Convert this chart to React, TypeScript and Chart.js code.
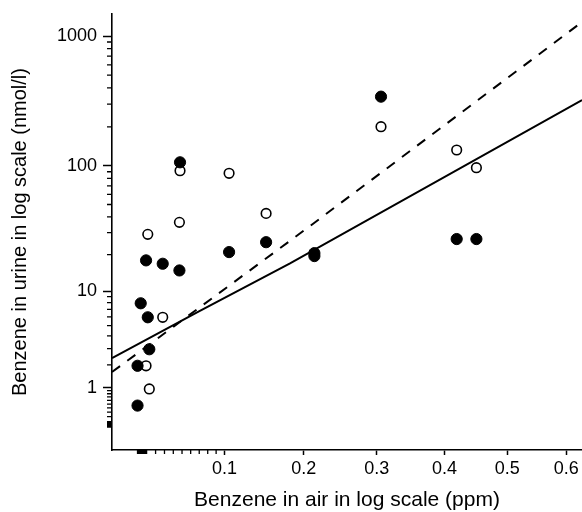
import React, { useEffect, useRef } from "react";
import { Chart, registerables } from "chart.js";

Chart.register(...registerables);

// ---- data (raw units: ppm on x, nmol/l on y) ----
const filledX = [0.0, 0.0, 0.0035, 0.0094, 0.0113, 0.013, 0.028, 0.047, 0.0477, 0.1056, 0.1514, 0.214, 0.214, 0.306, 0.419, 0.45];
const filledY = [0.46, 1.95, 7.9, 18.0, 5.95, 2.95, 16.9, 14.9, 106.5, 21.0, 25.2, 20.6, 19.5, 342, 26.7, 26.7];

const openX = [0.0094, 0.013, 0.028, 0.0113, 0.047, 0.0477, 0.1056, 0.1514, 0.306, 0.419, 0.45];
const openY = [1.95, 0.96, 5.95, 29.1, 36.2, 91.7, 87.5, 42.6, 200.7, 132.6, 96.7];

// regression lines
const solidX = [-0.0276, 0.068, 0.182, 0.628];
const solidY = [2.38, 6.6, 17.0, 322];
const dashedX = [-0.0276, 0.2083, 0.628];
const dashedY = [1.64, 33.9, 1282];

// ---- axes ----
const xRange = [-0.0276, 0.628];
const yRange = [-0.334, 1477];
const xMajor = [0.1, 0.2, 0.3, 0.4, 0.5, 0.6];
const xMajorLabels = ["0.1", "0.2", "0.3", "0.4", "0.5", "0.6"];
const xMinor = [
  0, 0.001, 0.002, 0.003, 0.004, 0.005, 0.006, 0.007, 0.008, 0.009,
  0.01, 0.02, 0.03, 0.04, 0.05, 0.06, 0.07, 0.08, 0.09,
];
const yMajor = [1, 10, 100, 1000];
const yMajorLabels = ["1", "10", "100", "1000"];
const yMinor = [
  0, 0.01, 0.02, 0.03, 0.04, 0.05, 0.06, 0.07, 0.08, 0.09,
  0.1, 0.2, 0.3, 0.4, 0.5, 0.6, 0.7, 0.8, 0.9,
  2, 3, 4, 5, 6, 7, 8, 9,
  20, 30, 40, 50, 60, 70, 80, 90,
  200, 300, 400, 500, 600, 700, 800, 900,
];

const xTitle = "Benzene in air in log scale (ppm)";
const yTitle = "Benzene in urine in log scale (nmol/l)";

// log(1 + v) transform used by both axes
const T = (v: number) => Math.log10(1 + v);

const FONT = "'Liberation Sans', Arial, Helvetica, sans-serif";

const minorTicksPlugin = {
  id: "minorTicks",
  afterDraw(chart: any) {
    const ctx = chart.ctx;
    const xs = chart.scales.x;
    const ys = chart.scales.y;
    ctx.save();
    ctx.strokeStyle = "#000";
    ctx.lineWidth = 1.3;
    ctx.beginPath();
    for (const v of yMinor) {
      const p = ys.getPixelForValue(T(v));
      ctx.moveTo(ys.right - 5, p);
      ctx.lineTo(ys.right, p);
    }
    for (const v of xMinor) {
      const p = xs.getPixelForValue(T(v));
      ctx.moveTo(p, xs.top);
      ctx.lineTo(p, xs.top + 4);
    }
    ctx.stroke();
    ctx.restore();
  },
};

export default function App() {
  const ref = useRef<HTMLCanvasElement | null>(null);

  useEffect(() => {
    document.body.style.margin = "0";
    const canvas = ref.current;
    if (!canvas) return;
    const toPts = (xs: number[], ys: number[]) => xs.map((x, i) => ({ x: T(x), y: T(ys[i]) }));

    const chart = new Chart(canvas, {
      type: "scatter",
      data: {
        datasets: [
          {
            data: toPts(filledX, filledY),
            pointRadius: 5.6,
            pointBackgroundColor: "#000",
            pointBorderColor: "#000",
            pointBorderWidth: 1,
            showLine: false,
            order: 0,
          },
          {
            data: toPts(openX, openY),
            pointRadius: 4.8,
            pointBackgroundColor: "#fff",
            pointBorderColor: "#000",
            pointBorderWidth: 1.6,
            showLine: false,
            order: 0,
          },
          {
            data: toPts(solidX, solidY),
            showLine: true,
            borderColor: "#000",
            borderWidth: 2,
            pointRadius: 0,
            fill: false,
            tension: 0,
            order: 1,
          },
          {
            data: toPts(dashedX, dashedY),
            showLine: true,
            borderColor: "#000",
            borderWidth: 2,
            borderDash: [10, 9],
            pointRadius: 0,
            fill: false,
            tension: 0,
            order: 1,
          },
        ],
      } as any,
      options: {
        animation: false,
        responsive: false,
        layout: { autoPadding: false, padding: { top: 14, left: 0, right: 0, bottom: 0 } },
        plugins: { legend: { display: false }, tooltip: { enabled: false } },
        scales: {
          x: {
            type: "linear",
            min: T(xRange[0]),
            max: T(xRange[1]),
            afterBuildTicks: (s: any) => {
              s.ticks = xMajor.map((v) => ({ value: T(v) }));
            },
            afterFit: (s: any) => {
              s.height = 62;
              s.paddingLeft = 0;
              s.paddingRight = 0;
            },
            ticks: {
              callback: (_v: any, i: number) => xMajorLabels[i],
              autoSkip: false,
              maxRotation: 0,
              padding: 3,
              color: "#000",
              font: { family: FONT, size: 18 },
            },
            grid: {
              display: true,
              drawOnChartArea: false,
              drawTicks: true,
              tickLength: 5,
              tickColor: "#000",
              tickWidth: 1.5,
            },
            border: { display: true, color: "#000", width: 1.6 },
            title: {
              display: true,
              text: xTitle,
              color: "#000",
              font: { family: FONT, size: 21, lineHeight: 1 },
              padding: { top: 0, bottom: 1 },
            },
          },
          y: {
            type: "linear",
            min: T(yRange[0]),
            max: T(yRange[1]),
            afterBuildTicks: (s: any) => {
              s.ticks = yMajor.map((v) => ({ value: T(v) }));
            },
            afterFit: (s: any) => {
              s.width = 112;
              s.paddingTop = 0;
              s.paddingBottom = 0;
            },
            ticks: {
              callback: (_v: any, i: number) => yMajorLabels[i],
              autoSkip: false,
              padding: 6,
              color: "#000",
              font: { family: FONT, size: 18 },
            },
            grid: {
              display: true,
              drawOnChartArea: false,
              drawTicks: true,
              tickLength: 9,
              tickColor: "#000",
              tickWidth: 1.5,
            },
            border: { display: true, color: "#000", width: 1.6 },
            title: {
              display: true,
              text: yTitle,
              color: "#000",
              font: { family: FONT, size: 20, lineHeight: 1 },
              padding: { top: 10.5, bottom: 0 },
            },
          },
        },
      } as any,
      plugins: [minorTicksPlugin],
    });
    return () => chart.destroy();
  }, []);

  return (
    <div style={{ width: 582, height: 512, position: "relative" }}>
      <canvas ref={ref} width={582} height={512} style={{ display: "block" }} />
    </div>
  );
}
